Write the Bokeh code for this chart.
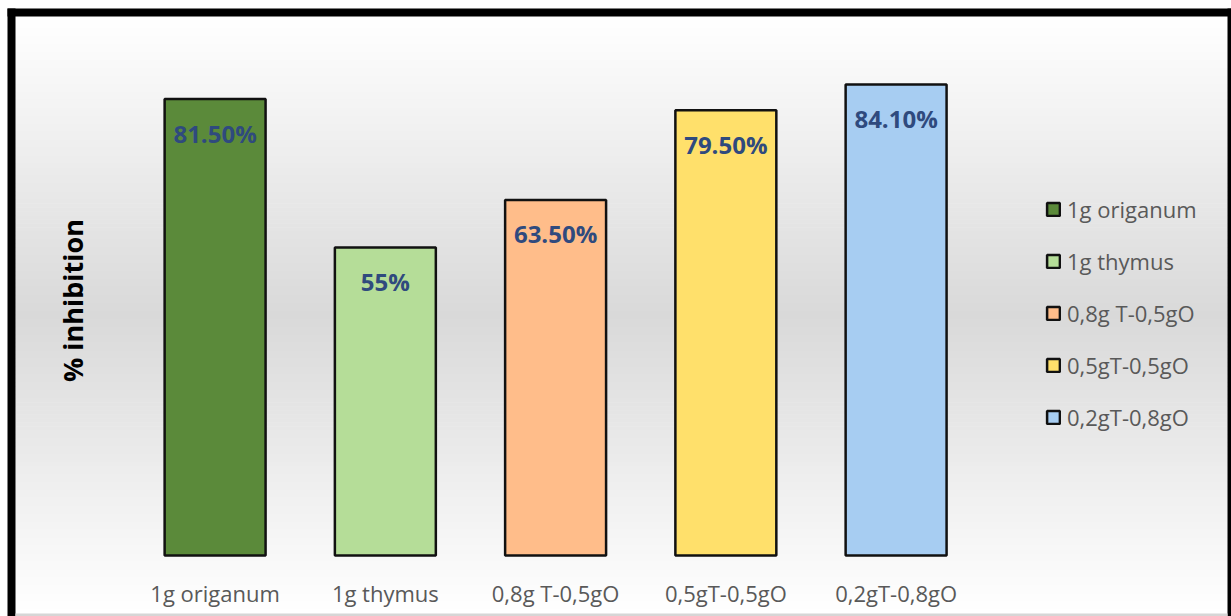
import numpy as np
from bokeh.plotting import figure
from bokeh.models import ColumnDataSource, Range1d, Legend, LegendItem
from bokeh.core.properties import value
from bokeh.embed import file_html
from bokeh.resources import INLINE

# ---- data ----
categories = ["1g origanum", "1g thymus", "0,8g T-0,5gO", "0,5gT-0,5gO", "0,2gT-0,8gO"]
inhibition = [81.5, 55.0, 63.5, 79.5, 84.1]
value_labels = ["81.50%", "55%", "63.50%", "79.50%", "84.10%"]
bar_colors = ["#5B8A3A", "#B5DD98", "#FFBD8A", "#FFE06B", "#A7CDF2"]
y_title = "% inhibition"

W, H = 1231, 616
FONT = value("Open Sans")

p = figure(width=W, height=H, output_backend="svg", toolbar_location=None,
           x_range=Range1d(-1.2605, 5.970), y_range=Range1d(-10.89, 99.11),
           x_axis_location=None, y_axis_location=None, min_border=0)
p.grid.visible = False
p.outline_line_color = None
p.background_fill_color = "white"
p.border_fill_color = "white"
p.extra_x_ranges = {"px": Range1d(0, W)}
p.extra_y_ranges = {"px": Range1d(H, 0)}

# ---- background gradient (white -> grey -> white) ----
nb = 150
y_edges = np.linspace(16, 613, nb + 1)
tops, bots, cols = [], [], []
for i in range(nb):
    t = (i + 0.5) / nb
    g = int(round(255 - 38 * (1 - abs(2 * t - 1))))
    tops.append(y_edges[i] - 0.3)
    bots.append(y_edges[i + 1] + 0.3)
    cols.append("#%02x%02x%02x" % (g, g, g))
p.quad(left=15, right=1227, top=tops, bottom=bots, fill_color=cols, line_color=None,
       x_range_name="px", y_range_name="px")

# ---- frame ----
p.quad(left=[7, 7, 1227, 15], right=[15, 1231, 1231, 1227],
       top=[8, 8, 8, 613], bottom=[616, 16, 616, 616],
       fill_color=["black", "black", "black", "#D6D6D6"], line_color=None,
       x_range_name="px", y_range_name="px")

# ---- bars ----
source = ColumnDataSource(dict(x=list(range(len(categories))), top=inhibition,
                               color=bar_colors, cat=categories, lbl=value_labels))
r = p.vbar(x="x", top="top", bottom=0, width=0.593, fill_color="color",
           line_color="#111111", line_width=2.5, source=source)

# value labels inside bars
p.text(x="x", y="top", text="lbl", source=source, text_align="center",
       text_baseline="middle", y_offset=34, text_font=FONT, text_font_size="24px",
       text_font_style="bold", text_color="#2F4A7E")

# category labels
p.text(x="x", y=592, text="cat", source=source, text_align="center",
       text_baseline="middle", text_font=FONT, text_font_size="22px",
       text_color="#595959", y_range_name="px")

# y title
p.text(x=[72], y=[300], text=[y_title], angle=np.pi / 2, text_align="center",
       text_baseline="middle", text_font=FONT, text_font_size="27px",
       text_font_style="bold", text_color="black",
       x_range_name="px", y_range_name="px")

# ---- legend ----
items = [LegendItem(label=value(categories[i]), renderers=[r], index=i)
         for i in range(len(categories))]
legend = Legend(items=items, location=(1045, 184), orientation="vertical",
                glyph_width=16, glyph_height=16, label_standoff=6, spacing=22,
                padding=0, margin=0, border_line_color=None,
                background_fill_alpha=0, label_text_font="Open Sans",
                label_text_font_size="22px", label_text_color="#595959",
                label_height=20)
p.add_layout(legend)

open("out.html", "w").write(file_html(p, INLINE))
